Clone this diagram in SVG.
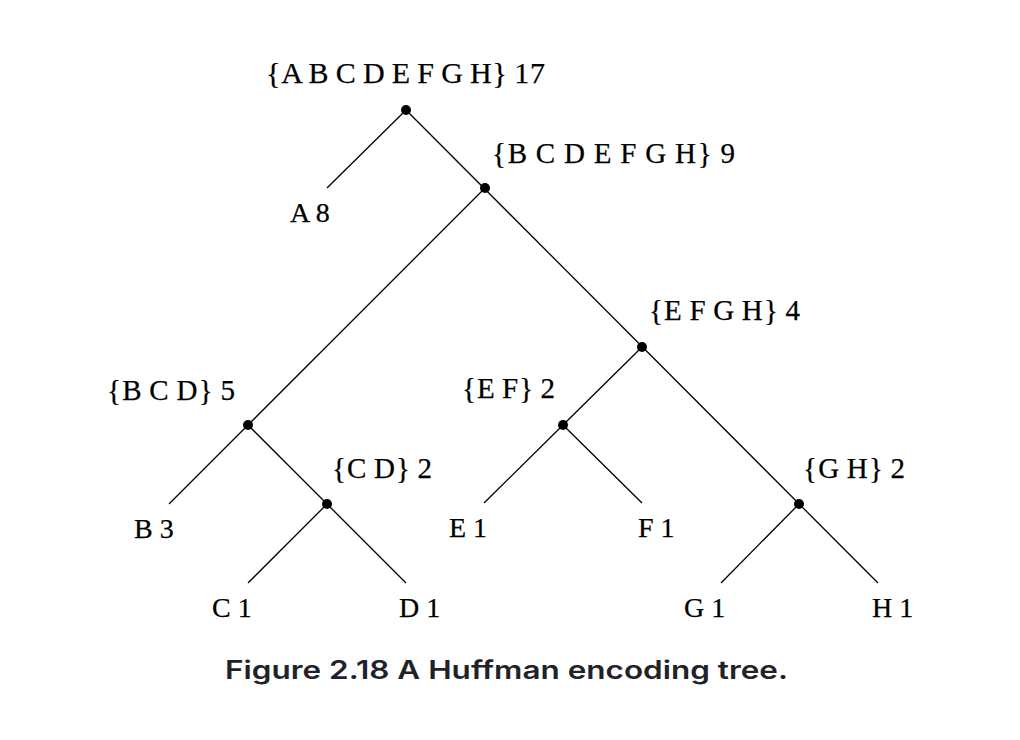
<svg xmlns="http://www.w3.org/2000/svg" width="1020" height="740" viewBox="0 0 1020 740">
<style>
.lbl{font-family:"Liberation Serif","Times New Roman",serif;font-size:28px;fill:#000;stroke:#000;stroke-width:0.25}
.set{font-size:29px;word-spacing:-2px}
.edge{stroke:#000;stroke-width:1.3;fill:none}
.dot{fill:#000}
.cap{font-family:Inter,"Liberation Sans",Arial,sans-serif;font-weight:600;font-size:25px;fill:#1f2328}
</style>
<rect width="1020" height="740" fill="#fff"/>
<g id="connectors">
<line class="edge" x1="406" y1="110" x2="327" y2="188"/>
<line class="edge" x1="406" y1="110" x2="878" y2="583"/>
<line class="edge" x1="485" y1="188" x2="248" y2="425"/>
<line class="edge" x1="248" y1="425" x2="169" y2="504"/>
<line class="edge" x1="248" y1="425" x2="406" y2="583"/>
<line class="edge" x1="327" y1="504" x2="248" y2="583"/>
<line class="edge" x1="642" y1="347" x2="563" y2="425"/>
<line class="edge" x1="563" y1="425" x2="484" y2="503"/>
<line class="edge" x1="563" y1="425" x2="642" y2="503"/>
<line class="edge" x1="799" y1="504" x2="721" y2="583"/>
</g>
<g id="n-root"><circle class="dot" cx="406" cy="110" r="5"/><text class="lbl set" style="font-size:30px" x="266" y="83" textLength="279" lengthAdjust="spacing">{A B C D E F G H} 17</text></g>
<g id="n-BCDEFGH"><circle class="dot" cx="485" cy="188" r="5"/><text class="lbl set" x="492" y="163" textLength="243" lengthAdjust="spacing">{B C D E F G H} 9</text></g>
<g id="n-A"><text class="lbl" x="290" y="222">A 8</text></g>
<g id="n-BCD"><circle class="dot" cx="248" cy="425" r="5"/><text class="lbl set" x="107" y="400" textLength="128" lengthAdjust="spacing">{B C D} 5</text></g>
<g id="n-B"><text class="lbl" x="134" y="538">B 3</text></g>
<g id="n-CD"><circle class="dot" cx="327" cy="504" r="5"/><text class="lbl set" x="332" y="478" textLength="100" lengthAdjust="spacing">{C D} 2</text></g>
<g id="n-C"><text class="lbl" x="212" y="617">C 1</text></g>
<g id="n-D"><text class="lbl" x="399" y="617">D 1</text></g>
<g id="n-EFGH"><circle class="dot" cx="642" cy="347" r="5"/><text class="lbl set" x="649" y="320" textLength="151" lengthAdjust="spacing">{E F G H} 4</text></g>
<g id="n-EF"><circle class="dot" cx="563" cy="425" r="5"/><text class="lbl set" x="462" y="398" textLength="93" lengthAdjust="spacing">{E F} 2</text></g>
<g id="n-E"><text class="lbl" x="449" y="537">E 1</text></g>
<g id="n-F"><text class="lbl" x="638" y="537">F 1</text></g>
<g id="n-GH"><circle class="dot" cx="799" cy="504" r="5"/><text class="lbl set" x="803" y="478" textLength="102" lengthAdjust="spacing">{G H} 2</text></g>
<g id="n-G"><text class="lbl" x="684" y="617">G 1</text></g>
<g id="n-H"><text class="lbl" x="872" y="617">H 1</text></g>
<text class="cap" x="225" y="679" textLength="563" lengthAdjust="spacingAndGlyphs">Figure 2.18 A Huffman encoding tree.</text>
</svg>
